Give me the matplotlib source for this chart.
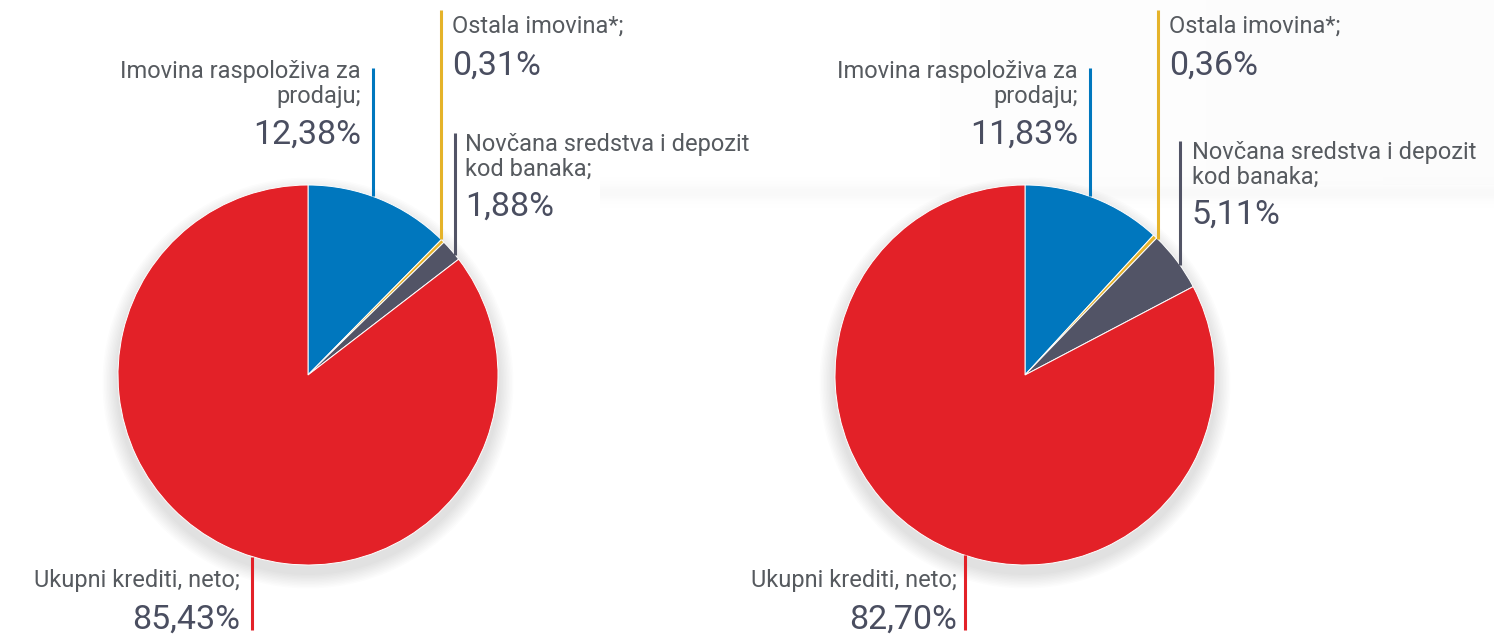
import numpy as np
import matplotlib.pyplot as plt
from matplotlib.patches import Circle

plt.rcParams['font.family'] = ['Roboto', 'DejaVu Sans']

W, H = 1494, 637

categories = ['Imovina raspoloživa za\nprodaju;', 'Ostala imovina*;',
              'Novčana sredstva i depozit\nkod banaka;', 'Ukupni krediti, neto;']
shares_left = [12.38, 0.31, 1.88, 85.43]
shares_right = [11.83, 0.36, 5.11, 82.70]
colors = ['#0077be', '#e5b32a', '#525466', '#e32128']

label_col = '#565a5f'
pct_col = '#4a4e60'

def fmt(v):
    return ('%.2f%%' % v).replace('.', ',')

fig = plt.figure(figsize=(W / 100, H / 100), dpi=100)
ax = fig.add_axes([0, 0, 1, 1])

# faint paper shading in the background (soft gradients)
yy = np.linspace(0, 1, 200)[:, None]
band = np.exp(-((yy - 0.5) / 0.18) ** 2) * np.ones((1, 50))
ax.imshow(band, extent=(600, W, H - 215, H - 170), cmap='Greys', vmin=0, vmax=12,
          alpha=0.6, aspect='auto', zorder=0)
top = np.ones((50, 50)) * np.linspace(0.4, 1, 50)[None, :]
ax.imshow(top, extent=(940, W, H - 185, H), cmap='Greys', vmin=0, vmax=25,
          alpha=0.6, aspect='auto', zorder=0)

R = 190

def draw(cx, cy, shares, lead_x, lead_top, txt):
    # soft shadow under the pie
    for k in range(10):
        ax.add_patch(Circle((cx, H - cy - 8), R + 2 + k * 1.5, color='#000000',
                            alpha=0.012, lw=0, zorder=1))
    ax.pie(shares, colors=colors, startangle=90, counterclock=False,
           center=(cx, H - cy), radius=R,
           wedgeprops=dict(edgecolor='white', linewidth=0.7), frame=True)
    for i in range(4):
        lx = lead_x[i]
        dy = np.sqrt(R ** 2 - (lx - cx) ** 2)
        edge = cy - dy if i < 3 else cy + dy
        ax.plot([lx, lx], [H - lead_top[i], H - edge], color=colors[i], lw=2.2,
                solid_capstyle='butt', zorder=3)
        tx, ty1, ty2, ha = txt[i]
        ax.text(tx, H - ty1, categories[i], ha=ha, va='center', fontsize=17,
                color=label_col, linespacing=1.12)
        ax.text(tx, H - ty2, fmt(shares[i]), ha=ha, va='center', fontsize=24.5,
                color=pct_col)

draw(308, 375, shares_left,
     [373, 441, 455, 252], [68, 10, 133, 630],
     [(361, 84, 135, 'right'), (452, 26, 66, 'left'),
      (465, 157, 207, 'left'), (240, 581, 620, 'right')])

draw(1025, 375, shares_right,
     [1090, 1158, 1180, 965], [68, 10, 141, 630],
     [(1078, 84, 135, 'right'), (1169, 26, 66, 'left'),
      (1192, 165, 215, 'left'), (957, 581, 620, 'right')])

ax.set_xlim(0, W)
ax.set_ylim(0, H)
ax.set_aspect('equal')
ax.axis('off')

fig.savefig('out.png', dpi=100)
